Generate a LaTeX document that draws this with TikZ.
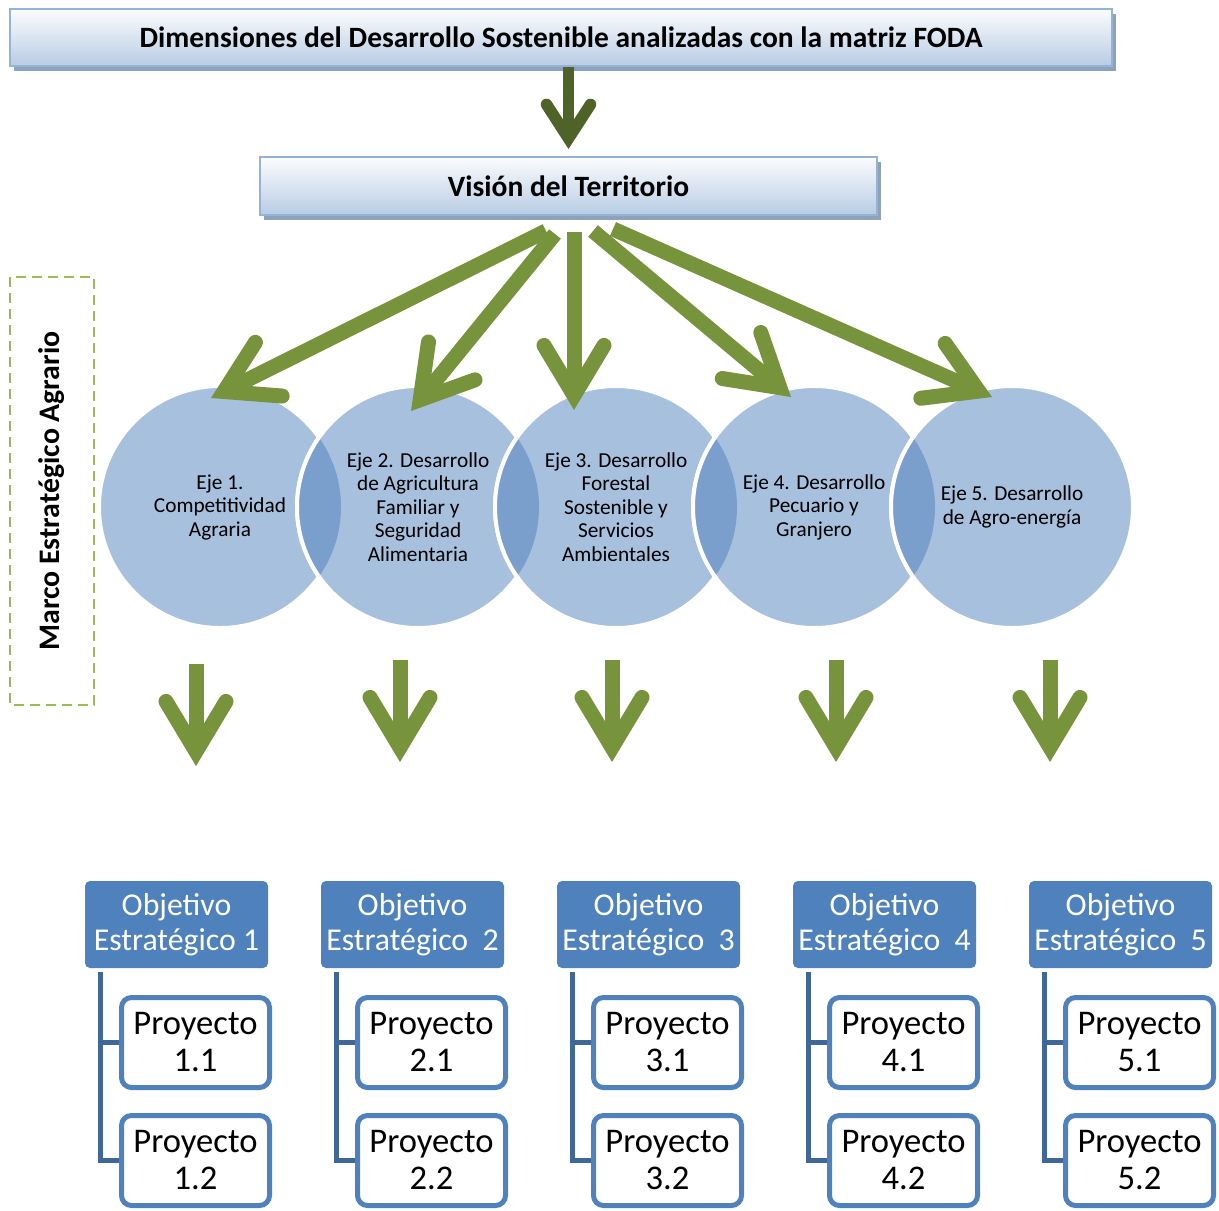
\documentclass[tikz,border=0pt]{standalone}
\usepackage{fontspec}
\setmainfont{Carlito}
\usetikzlibrary{arrows.meta,positioning,calc,shadows}

\definecolor{hdrline}{HTML}{95B3D7}
\definecolor{hdrtop}{HTML}{FBFCFE}
\definecolor{hdrbot}{HTML}{B8CCE4}
\definecolor{hdrshadow}{HTML}{8EA2BC}
\definecolor{darkgreen}{HTML}{4F6228}
\definecolor{leafgreen}{HTML}{77933C}
\definecolor{dashgreen}{HTML}{9BBB59}
\definecolor{vennfill}{HTML}{A7C0DE}
\definecolor{venndark}{HTML}{7B9FCD}
\definecolor{objblue}{HTML}{4F81BD}
\definecolor{treeblue}{HTML}{3F6797}

\begin{document}
\begin{tikzpicture}[
  x=0.5pt, y=-0.5pt,
  hdr/.style={draw=hdrline, line width=1pt, top color=hdrtop, bottom color=hdrbot,
              inner sep=0pt, font=\bfseries\fontsize{14.75}{17}\selectfont,
              drop shadow={shadow xshift=2pt, shadow yshift=-2.5pt, fill=hdrshadow, opacity=1}},
  eje/.style={circle, minimum size=121pt, inner sep=0pt, fill=vennfill, draw=white,
              line width=2pt, align=center, font=\fontsize{10.65}{11.75}\selectfont},
  marco/.style={draw=dashgreen, line width=1pt, dash pattern=on 5pt off 3pt,
              minimum width=214pt, minimum height=42pt,
              font=\bfseries\fontsize{14.9}{17}\selectfont},
  obj/.style={fill=objblue, rounded corners=2.5pt, text=white, inner sep=0pt,
              minimum width=91.5pt, minimum height=43.5pt, align=center,
              font=\fontsize{15.9}{17.5}\selectfont},
  proy/.style={draw=objblue, line width=2.5pt, fill=white, rounded corners=5pt,
              inner sep=0pt, minimum width=74pt, minimum height=45pt, align=center,
              font=\fontsize{17.3}{18.5}\selectfont},
  tree/.style={treeblue, line width=2.5pt},
  darr/.style={darkgreen, line width=5.75pt,
              -{Straight Barb[length=17pt, width=22pt, line cap=round, line join=miter]}},
  arr/.style={leafgreen, line width=7.5pt,
              -{Straight Barb[length=25pt, width=30pt, line cap=round, line join=miter]}}]
\useasboundingbox (0,0) rectangle (1219,1210);

% headers
\node[hdr, minimum width=551pt, minimum height=28.5pt] (dim) at (561,37.5)
  {Dimensiones del Desarrollo Sostenible analizadas con la matriz FODA};
\node[hdr, minimum width=308.5pt, minimum height=29pt] (vis) at (568.5,186)
  {Visión del Territorio};
\draw[darr, shorten >=3.5pt] (dim.south -| vis.north) -- (vis.north);

\node[marco, rotate=90] (marco) at (52,491) {Marco Estratégico Agrario};

% ejes
\node[eje] (e1) at (220,507) {Eje 1.\\Competitividad\\Agraria};
\node[eje] (e2) at (418,507) {Eje 2. Desarrollo\\de Agricultura\\Familiar y\\Seguridad\\Alimentaria};
\node[eje] (e3) at (616,507) {Eje 3. Desarrollo\\Forestal\\Sostenible y\\Servicios\\Ambientales};
\node[eje] (e4) at (814,507) {Eje 4. Desarrollo\\Pecuario y\\Granjero};
\node[eje] (e5) at (1012,507) {Eje 5. Desarrollo\\de Agro-energía};
% overlaps
\foreach \a/\b in {e1/e2, e2/e3, e3/e4, e4/e5} {
  \begin{scope}
    \clip (\a.center) circle (60.5pt);
    \fill[venndark] (\b.center) circle (60.5pt);
    \draw[white, line width=2pt] (\b.center) circle (60.5pt);
  \end{scope}
}

% arrows from the vision
\coordinate (s1) at (546,231);  \coordinate (t1) at (211,398);
\coordinate (s2) at (555,234);  \coordinate (t2) at (411,411);
\coordinate (s3) at (574,232);  \coordinate (t3) at (574,410);
\coordinate (s4) at (593,231);  \coordinate (t4) at (791,397);
\coordinate (s5) at (613,229);  \coordinate (t5) at (992,397);
\foreach \i in {1,...,5}
  \draw[arr] (s\i) -- (t\i);

% objectives and projects
\foreach \i/\sp/\x/\ax/\ay in {1/ /0/196/664, 2/\ \ /236/400/660, 3/\ \ /472/612/660,
                               4/\ \ /708/836/660, 5/\ \ /944/1050/660} {
  \coordinate (a\i) at (\ax,\ay);
  \coordinate (b\i) at (\ax,\ay+102);
  \draw[arr] (a\i) -- (b\i);
  \node[obj] (o\i) at (176.5+\x,924.5) {Objetivo\\Estratégico\sp\i};
  \node[proy] (p\i1) at (195.5+\x,1042.5) {Proyecto\\\i.1};
  \node[proy] (p\i2) at (195.5+\x,1160.5) {Proyecto\\\i.2};
  \draw[tree] ([xshift=8pt,yshift=-2pt]o\i.south west) |- (p\i1.west);
  \draw[tree] ([xshift=8pt,yshift=-2pt]o\i.south west) |- (p\i2.west);
}
\end{tikzpicture}
\end{document}
